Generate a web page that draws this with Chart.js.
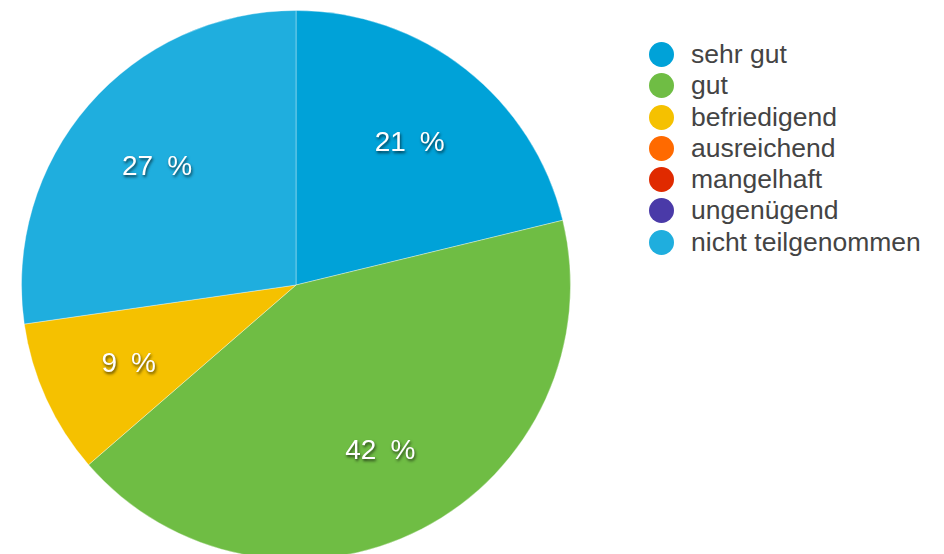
<!DOCTYPE html>
<html>
<head>
<meta charset="utf-8">
<script src="https://cdn.jsdelivr.net/npm/chart.js@4"></script>
<style>
  html, body { margin: 0; padding: 0; background: #fff; overflow: hidden; }
  body { width: 944px; height: 554px; position: relative; }
  #pieBox { position: absolute; left: 21px; top: 10px; width: 550px; height: 550px; }
  #legend { position: absolute; left: 649px; top: 39px; margin: 0; padding: 0; list-style: none;
            font-family: "Liberation Sans", Arial, Helvetica, sans-serif; font-size: 26.5px; color: #444; }
  #legend li { height: 31.3px; line-height: 31px; position: relative; padding-left: 42px; white-space: nowrap; }
  #legend li span { position: absolute; left: 0; top: 3px; width: 25px; height: 25px; border-radius: 50%; }
</style>
</head>
<body>
<div id="pieBox"><canvas id="gradeChart"></canvas></div>
<ul id="legend"></ul>
<script>
// Grades and how many answered each
const grades = ["sehr gut", "gut", "befriedigend", "ausreichend", "mangelhaft", "ungenügend", "nicht teilgenommen"];
const counts = [7, 14, 3, 0, 0, 0, 9];
const gradeColors = ["#00a2d8", "#6fbd44", "#f5c100", "#ff6a00", "#e02a00", "#4a3aa8", "#1faede"];

// Draw the "xx %" labels inside each slice
const percentLabels = {
    id: "percentLabels",
    afterDatasetsDraw(chart) {
        const ctx = chart.ctx;
        const meta = chart.getDatasetMeta(0);
        const data = chart.data.datasets[0].data;
        const total = data.reduce((a, b) => a + b, 0);
        ctx.save();
        ctx.font = "28px 'Liberation Sans', Arial, Helvetica, sans-serif";
        ctx.textAlign = "center";
        ctx.textBaseline = "middle";
        ctx.fillStyle = "#fff";
        ctx.shadowColor = "rgba(0,0,0,0.65)";
        ctx.shadowBlur = 3;
        ctx.shadowOffsetX = 1;
        ctx.shadowOffsetY = 2;
        meta.data.forEach((arc, i) => {
            if (!data[i]) return;
            const mid = (arc.startAngle + arc.endAngle) / 2;
            const r = arc.outerRadius * 0.67;
            const x = arc.x + Math.cos(mid) * r;
            const y = arc.y + Math.sin(mid) * r + 3;
            ctx.fillText(Math.round(data[i] / total * 100) + "\u2002%", x, y);
        });
        ctx.restore();
    }
};

const chart = new Chart(document.getElementById("gradeChart"), {
    type: "pie",
    data: {
        labels: grades,
        datasets: [{
            data: counts,
            backgroundColor: gradeColors,
            borderColor: "rgba(255,255,255,0.35)",
            borderWidth: 1
        }]
    },
    options: {
        responsive: true,
        maintainAspectRatio: false,
        animation: false,
        layout: { padding: 0 },
        plugins: {
            legend: { display: false },
            tooltip: { enabled: false }
        }
    },
    plugins: [percentLabels]
});

// Legend built from the same arrays
const legendEl = document.getElementById("legend");
grades.forEach((g, i) => {
    const li = document.createElement("li");
    const dot = document.createElement("span");
    dot.style.background = gradeColors[i];
    li.appendChild(dot);
    li.appendChild(document.createTextNode(g));
    legendEl.appendChild(li);
});
</script>
</body>
</html>
